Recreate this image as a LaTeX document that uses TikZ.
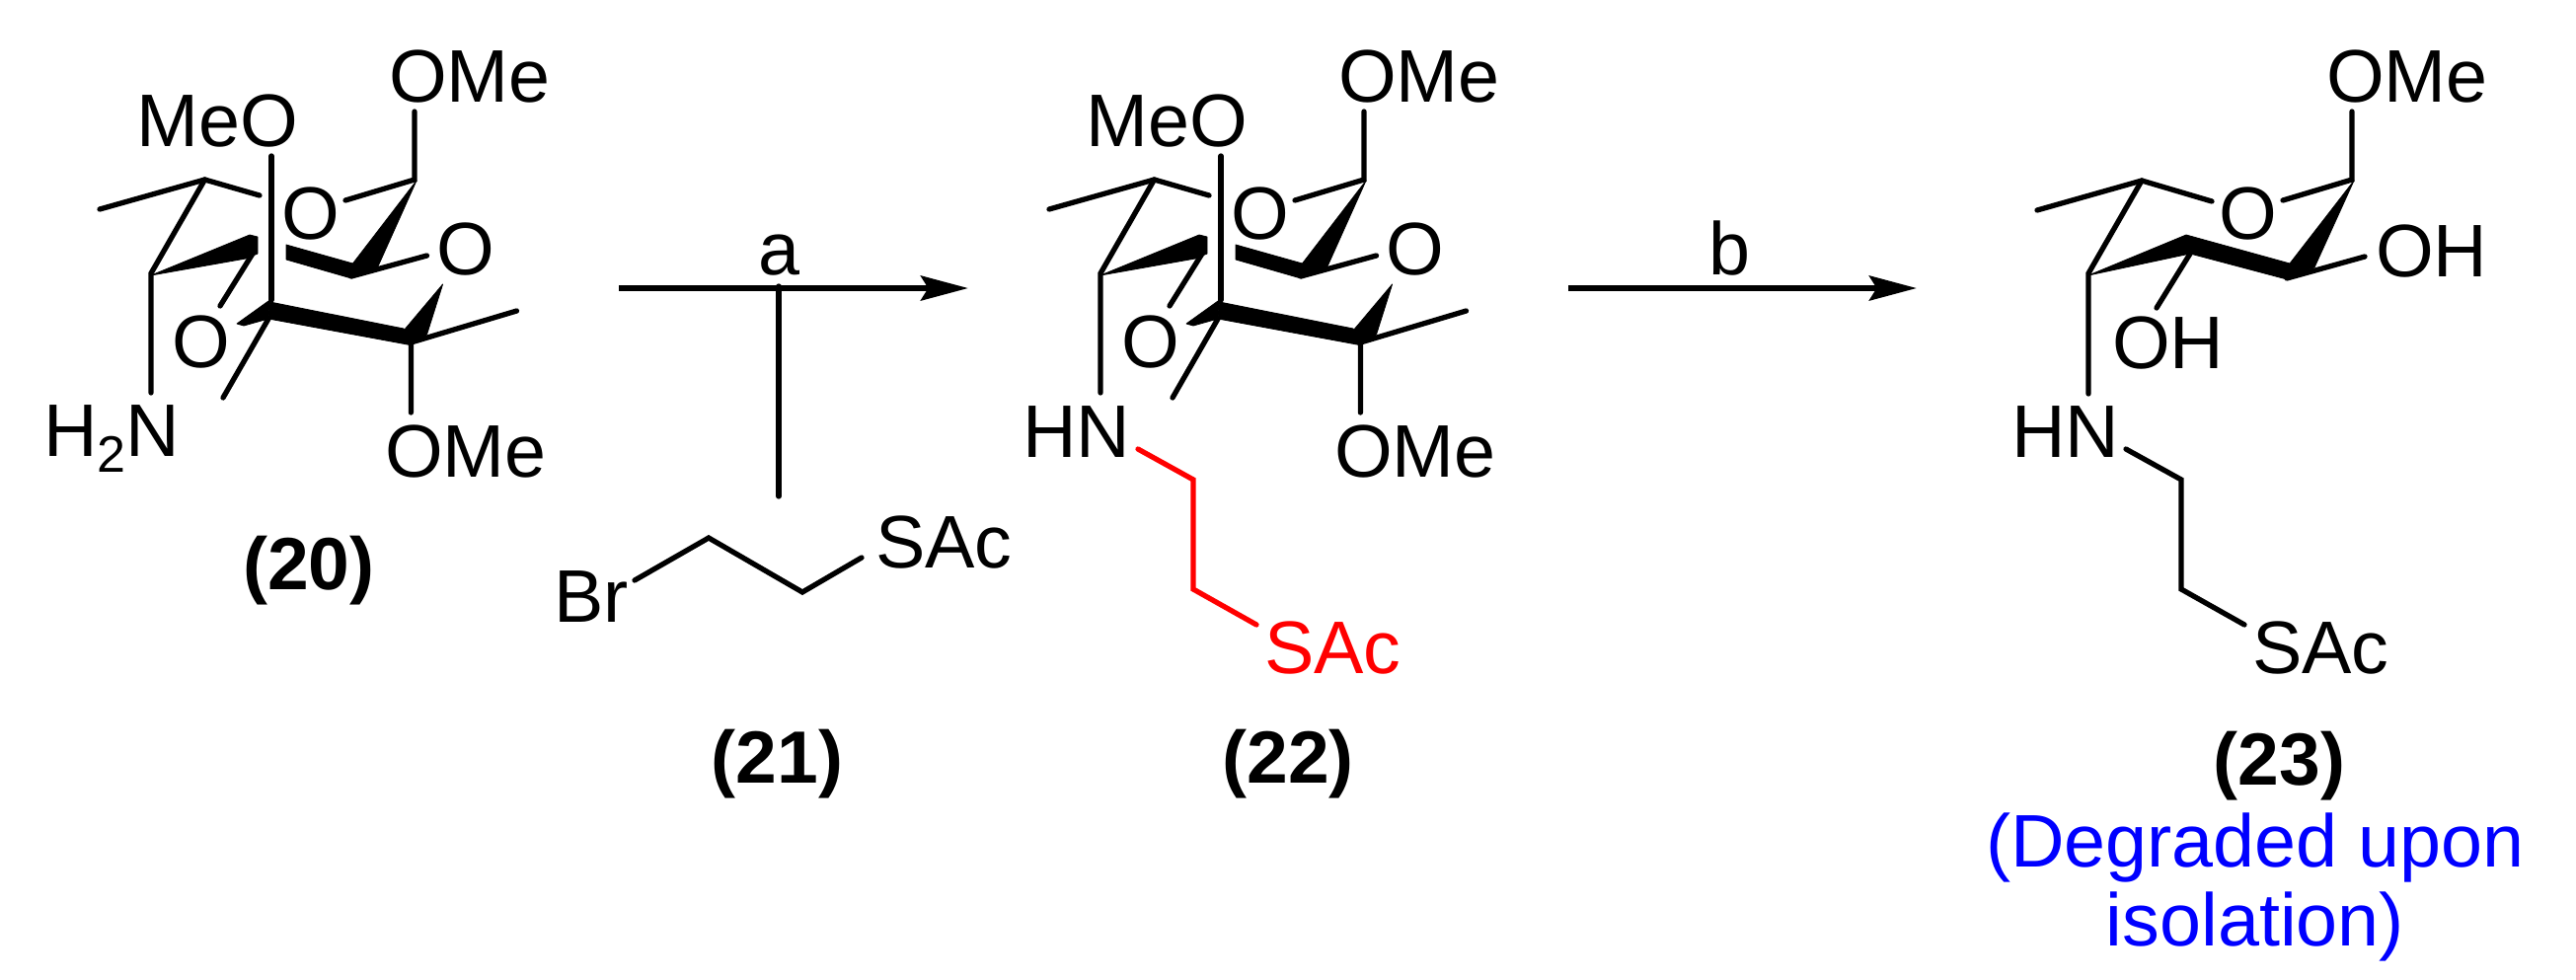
\documentclass[tikz,border=0pt]{standalone}
\usepackage{fontspec}
\setmainfont{Liberation Sans}
\usetikzlibrary{arrows.meta}
\definecolor{pureblue}{rgb}{0,0,1}
\definecolor{purered}{rgb}{1,0,0}
\tikzset{
  atom/.style={inner sep=0pt,outer sep=0pt,font=\fontsize{75.5}{80}\selectfont},
  cmpd/.style={atom,anchor=base,font=\fontsize{75}{80}\selectfont\bfseries},
  bond/.style={line width=5.3pt,line cap=round,line join=miter},
  bold/.style={fill=black,draw=black,line width=0.8pt,line join=round},
  rxn/.style={line width=6pt,-{Stealth[length=48pt,width=25pt,inset=7.5pt]}},
  feed/.style={line width=5.3pt,line cap=round}
}
% shared part of the bridged rings of (20) and (22)
\newcommand{\bridged}[2]{%
\begin{scope}[shift={(#2,0)}]
  \coordinate (#1c5) at (207.5,182);
  \coordinate (#1me5) at (101,212);
  \coordinate (#1oa) at (263,198);
  \coordinate (#1c4) at (153,277);
  \coordinate (#1nb) at (153,398);
  \coordinate (#1c1) at (420,182);
  \coordinate (#1o1) at (420,113);
  \coordinate (#1ob) at (350,203);
  \coordinate (#1c2) at (356,280);
  \coordinate (#1o2) at (432.5,259);
  \coordinate (#1o3a) at (256,257);
  \coordinate (#1o3b) at (223,310);
  \coordinate (#1v1) at (275,158);
  \coordinate (#1v2) at (275,304);
  \coordinate (#1c7) at (272,323);
  \coordinate (#1me7) at (226,403);
  \coordinate (#1c8) at (416.4,347);
  \coordinate (#1me8) at (523.5,315);
  \coordinate (#1o8) at (416.4,418);
  \node[atom,anchor=base east] (#1meo) at (302,148) {MeO};
  \node[atom,anchor=base west] (#1ome) at (394,103) {OMe};
  \node[atom,anchor=base] (#1ring) at (315,242) {O};
  \node[atom,anchor=base] (#1oright) at (472,278) {O};
  \node[atom,anchor=base] (#1olow) at (204,372) {O};
  \node[atom,anchor=base west] (#1omeb) at (390,483) {OMe};
  \draw[bond] (#1me5) -- (#1c5) -- (#1oa);
  \draw[bond] (#1c5) -- (#1c4) -- (#1nb);
  \draw[bond] (#1o1) -- (#1c1) -- (#1ob);
  \draw[bond] (#1c2) -- (#1o2);
  \draw[bond] (#1o3a) -- (#1o3b);
  \draw[bond] (#1v1) -- (#1v2);
  \draw[bond] (#1c7) -- (#1me7);
  \draw[bond] (#1me8) -- (#1c8) -- (#1o8);
  \fill[bold] (153,279) -- (249,262) -- (261,257) -- (261,240) -- (253,238) -- cycle;
  \fill[bold] (290,248) -- (290,263) -- (356,282) -- (357.5,267) -- cycle;
  \fill[bold] (422,183) -- (357.5,267) -- (356,281) -- (382.5,271) -- cycle;
  \fill[bold] (273.5,306) -- (409,333) -- (418,350) -- (272,323) -- cycle;
  \fill[bold] (240,328) -- (273.5,304) -- (272,323) -- (247,330) -- cycle;
  \fill[bold] (448.6,288) -- (409,335) -- (416.4,347) -- (432.5,339) -- cycle;
\end{scope}}
\begin{document}
\begin{tikzpicture}[x=1pt,y=-1pt]
\useasboundingbox (0,0) rectangle (2610,993);
\fill[white] (0,0) rectangle (2610,993);
% compound 20
\bridged{a}{0}
\node[atom,anchor=base west] (anh) at (44,462) {H\raisebox{-16pt}{\fontsize{52}{52}\selectfont 2}N};
\node[cmpd] (n20) at (313,597) {(20)};
% reagent 21
\coordinate (r1) at (643,588);
\coordinate (r2) at (718,545);
\coordinate (r3) at (813,600);
\coordinate (r4) at (873,565);
\node[atom,anchor=base west] (br) at (561,630) {Br};
\node[atom,anchor=base west] (rsac) at (887,575) {SAc};
\draw[bond] (r1) -- (r2) -- (r3) -- (r4);
\node[cmpd] (n21) at (787.5,793) {(21)};
% arrow a
\coordinate (aa) at (627,292);
\coordinate (ab) at (981,292);
\coordinate (ac) at (789,290);
\coordinate (ad) at (789,503);
\draw[rxn] (aa) -- (ab);
\draw[feed] (ac) -- (ad);
\node[atom,anchor=base] (la) at (789,278) {a};
% compound 22
\bridged{b}{962}
\node[atom,anchor=base west] (bhn) at (1036,463) {HN};
\coordinate (b1) at (1153,455);
\coordinate (b2) at (1209,486);
\coordinate (b3) at (1209,597);
\coordinate (b4) at (1273,633);
\draw[bond,purered,line join=miter] (b1) -- (b2) -- (b3) -- (b4);
\node[atom,anchor=base west,text=purered] (bsac) at (1281,682) {SAc};
\node[cmpd] (n22) at (1305,793) {(22)};
% arrow b
\coordinate (ba) at (1589,292);
\coordinate (bb) at (1942,292);
\draw[rxn] (ba) -- (bb);
\node[atom,anchor=base] (lb) at (1752,278) {b};
% compound 23
\coordinate (c5) at (2170,183);
\coordinate (me5) at (2064,213);
\coordinate (oa) at (2241,204);
\coordinate (c4) at (2116,277);
\coordinate (nb) at (2116,399);
\coordinate (c1) at (2383,182);
\coordinate (o1) at (2383,113);
\coordinate (ob) at (2313,203);
\coordinate (c2) at (2317,282);
\coordinate (o2) at (2396,260);
\coordinate (o3a) at (2219,257);
\coordinate (o3b) at (2185,312);
\node[atom,anchor=base west] (come) at (2357,103) {OMe};
\node[atom,anchor=base] (cring) at (2278,242) {O};
\node[atom,anchor=base west] (coh) at (2407,280) {OH};
\node[atom,anchor=base west] (cohb) at (2140,373) {OH};
\node[atom,anchor=base west] (chn) at (2038,463) {HN};
\draw[bond] (me5) -- (c5) -- (oa);
\draw[bond] (c5) -- (c4) -- (nb);
\draw[bond] (o1) -- (c1) -- (ob);
\draw[bond] (c2) -- (o2);
\draw[bond] (o3a) -- (o3b);
\fill[bold] (2116,279) -- (2219,257) -- (2317,283) -- (2320,267) -- (2215,238) -- cycle;
\fill[bold] (2385,183) -- (2320,267) -- (2317,282) -- (2345,271) -- cycle;
\coordinate (c6) at (2154,455);
\coordinate (c7) at (2210,486);
\coordinate (c8) at (2210,597);
\coordinate (c9) at (2274,633);
\draw[bond] (c6) -- (c7) -- (c8) -- (c9);
\node[atom,anchor=base west] (csac) at (2282,682) {SAc};
\node[cmpd] (n23) at (2309.5,795) {(23)};
\node[atom,anchor=base,text=pureblue,align=center] (deg) at (2285,958) {(Degraded upon\\isolation)};
\end{tikzpicture}
\end{document}
